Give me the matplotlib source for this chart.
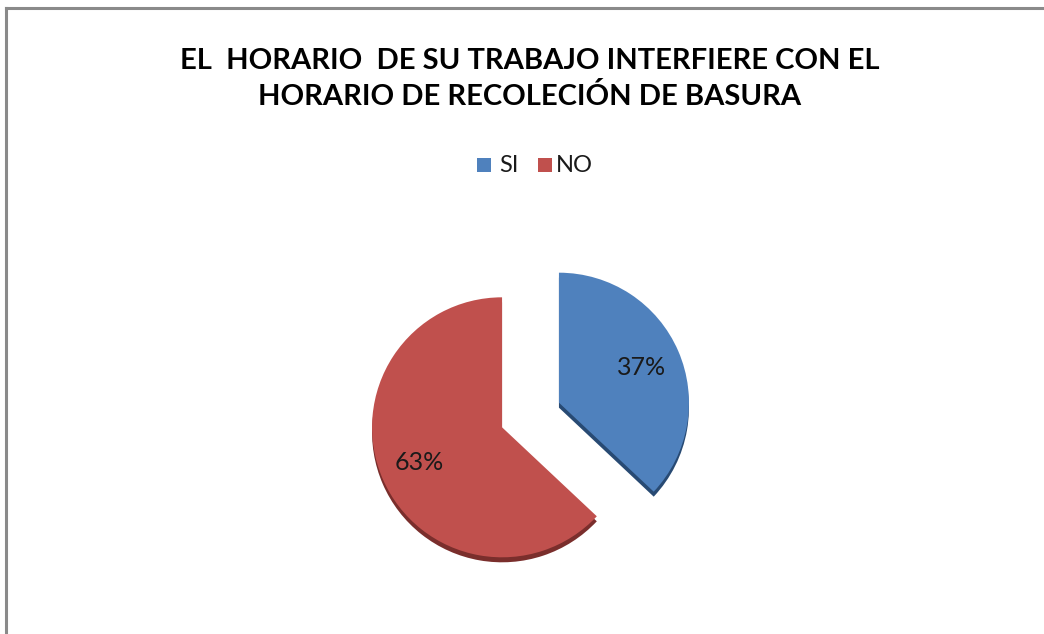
import matplotlib
matplotlib.use("Agg")
import matplotlib.pyplot as plt
from matplotlib.lines import Line2D
from matplotlib.patches import Rectangle

# datos
categorias = ['SI', 'NO']
porcentajes = [37, 63]
colores = ['#4F81BD', '#C0504D']
colores_sombra = ['#284A73', '#7A2E2C']
titulo = 'EL  HORARIO  DE SU TRABAJO INTERFIERE CON EL\nHORARIO DE RECOLECIÓN DE BASURA'

W, H = 1044, 634
fig = plt.figure(figsize=(W / 100, H / 100), dpi=100)
fig.patch.set_facecolor('white')
ax = fig.add_axes([0, 0, 1, 1])

# borde del gráfico (solo arriba e izquierda visibles)
fig.add_artist(Line2D([6 / W, 1], [1 - 8 / H, 1 - 8 / H], transform=fig.transFigure,
                      color='#8a8a8a', lw=2.2))
fig.add_artist(Line2D([6 / W, 6 / W], [0, 1 - 8 / H], transform=fig.transFigure,
                      color='#8a8a8a', lw=2.2))

cx, cy, r = 530.5, H - 415, 130
explode = [31, 31]  # en unidades de datos (px)

# sombra (efecto 3D)
ax.pie(porcentajes, colors=colores_sombra, startangle=90, counterclock=False,
       explode=explode, center=(cx, cy - 5), radius=r, frame=True,
       wedgeprops=dict(linewidth=0))

wedges, texts, autotexts = ax.pie(
    porcentajes, colors=colores, startangle=90, counterclock=False,
    explode=explode, center=(cx, cy), radius=r, frame=True,
    autopct='%1.0f%%', pctdistance=0.69,
    textprops=dict(fontsize=18, family='Lato', color='#1a1a1a'),
    wedgeprops=dict(linewidth=0))
ax.set_xlim(0, W)
ax.set_ylim(0, H)
ax.set_aspect('equal')
ax.axis('off')

fig.text(530 / W, 1 - 79 / H, titulo, ha='center', va='center', fontsize=21,
         fontweight='bold', family='Lato', linespacing=1.42, color='black')

# leyenda
ley_y = H - 165
items = [(477, 499), (538, 556)]
for (xs, xt), cat, col in zip(items, categorias, colores):
    ax.add_patch(Rectangle((xs, ley_y - 7), 14, 14, color=col, lw=0))
    ax.text(xt, ley_y, cat, ha='left', va='center', fontsize=17, family='Lato',
            color='#1a1a1a')

fig.savefig('out.png', dpi=100, facecolor='white')
